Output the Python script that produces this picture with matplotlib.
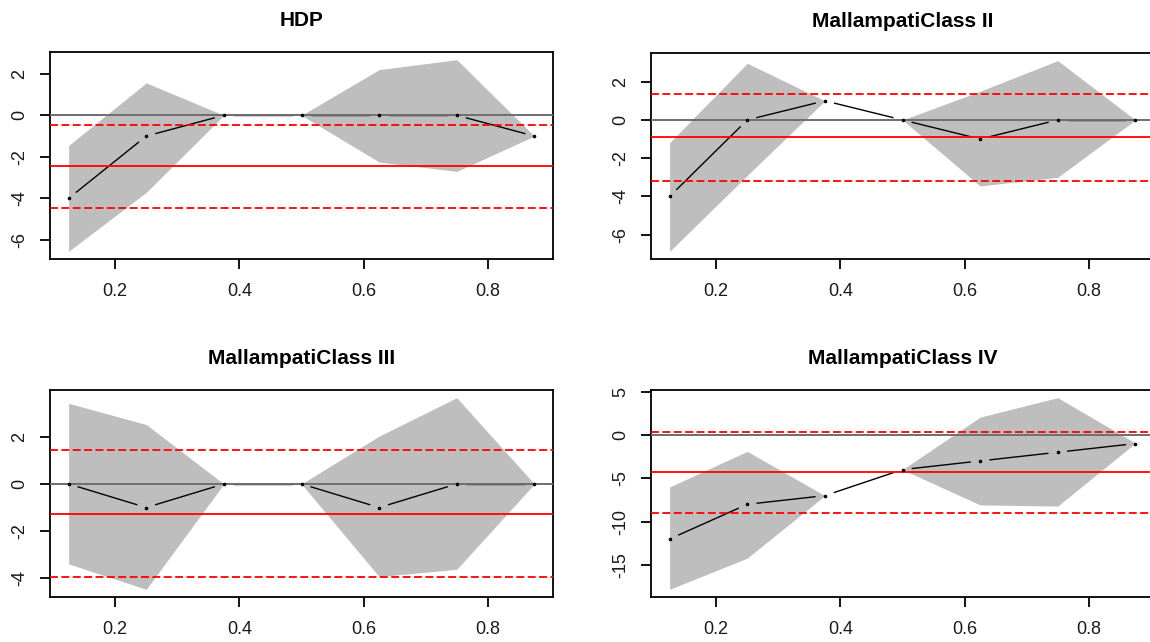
import matplotlib

matplotlib.use("Agg")
import matplotlib.pyplot as plt
import numpy as np

# x positions shared by all four panels
quantiles = [0.125, 0.25, 0.375, 0.5, 0.625, 0.75, 0.875]

titles = ["HDP", "MallampatiClass II", "MallampatiClass III", "MallampatiClass IV"]

# point estimates
est_hdp = [-4, -1, 0, 0, 0, 0, -1]
est_m2 = [-4, 0, 1, 0, -1, 0, 0]
est_m3 = [0, -1, 0, 0, -1, 0, 0]
est_m4 = [-12, -8, -7, -4, -3, -2, -1]

# pointwise band
upper_hdp = [-1.45, 1.56, 0, 0, 2.2, 2.68, -1.0]
lower_hdp = [-6.55, -3.71, 0, 0, -2.25, -2.7, -1.0]
upper_m2 = [-1.19, 2.96, 1.0, 0, 1.5, 3.1, 0]
lower_m2 = [-6.87, -2.9, 1.0, 0, -3.45, -3.0, 0]
upper_m3 = [3.42, 2.52, 0, 0, 2.03, 3.66, 0]
lower_m3 = [-3.39, -4.47, 0, 0, -3.93, -3.62, 0]
upper_m4 = [-6.0, -1.9, -7, -4, 2.05, 4.29, -0.95]
lower_m4 = [-17.8, -14.2, -7, -4, -8.07, -8.2, -0.95]

# overall estimate (solid red) and its interval (dashed red)
overall = [-2.46, -0.9, -1.27, -4.3]
overall_lo = [-4.47, -3.17, -3.96, -8.96]
overall_hi = [-0.47, 1.33, 1.42, 0.35]

yticks = [[-6, -4, -2, 0, 2], [-6, -4, -2, 0, 2], [-4, -2, 0, 2], [-15, -10, -5, 0, 5]]
xticks = [0.2, 0.4, 0.6, 0.8]

estimates = [est_hdp, est_m2, est_m3, est_m4]
uppers = [upper_hdp, upper_m2, upper_m3, upper_m4]
lowers = [lower_hdp, lower_m2, lower_m3, lower_m4]

W, H = 1150, 642
# panel boxes in pixels: left, top, right, bottom
boxes = [(50, 52, 553, 259), (651, 53, 1154, 259),
         (50, 390, 553, 597), (651, 390, 1154, 597)]

plt.rcParams.update({
    "font.family": ["Liberation Sans", "DejaVu Sans"],
    "axes.linewidth": 1.3,
})

_BAND = "#BEBEBE"
_ZERO = "#6E6E6E"
_RED = "#FF0000"


def r_range(lo, hi):
    pad = 0.04 * (hi - lo)
    return lo - pad, hi + pad


def gapped_line(ax, x, y, gap=10):
    """R type='b': segments stop short of each point."""
    pts = ax.transData.transform(np.column_stack([x, y]))
    inv = ax.transData.inverted()
    for p0, p1 in zip(pts[:-1], pts[1:]):
        d = p1 - p0
        n = np.hypot(d[0], d[1])
        if n <= 2 * gap:
            continue
        u = d / n
        seg = inv.transform(np.array([p0 + u * gap, p1 - u * gap]))
        ax.plot(seg[:, 0], seg[:, 1], color="black", lw=1.0, zorder=3)


fig = plt.figure(figsize=(W / 100, H / 100), dpi=100)

for i in range(4):
    l, t, r, b = boxes[i]
    ax = fig.add_axes([l / W, 1 - b / H, (r - l) / W, (b - t) / H])
    ax.set_xlim(*r_range(min(quantiles), max(quantiles)))
    ax.set_ylim(*r_range(min(lowers[i]), max(uppers[i])))

    ax.fill_between(quantiles, lowers[i], uppers[i], color=_BAND, lw=0, zorder=1)
    gapped_line(ax, quantiles, estimates[i])
    ax.axhline(0, color=_ZERO, lw=1.4, zorder=4)
    ax.axhline(overall[i], color=_RED, lw=1.3, zorder=4)
    for v in (overall_lo[i], overall_hi[i]):
        ax.axhline(v, color=_RED, lw=1.3, ls=(0, (4.4, 1.9)), zorder=4)
    ax.plot(quantiles, estimates[i], "o", color="black", ms=2.6, mew=0, zorder=5)

    ax.set_xticks(xticks)
    ax.set_xticklabels(["{:.1f}".format(v) for v in xticks])
    ax.set_yticks(yticks[i])
    ax.set_yticklabels([str(v) for v in yticks[i]], rotation=90, va="center")
    ax.tick_params(direction="out", length=7.5, width=1.3, labelsize=13,
                   labelcolor="#1a1a1a")
    ax.tick_params(axis="x", pad=10)
    ax.tick_params(axis="y", pad=8)
    ax.set_title(titles[i], fontsize=15, fontweight="bold", pad=19)

fig.savefig("out.png", dpi=100)
